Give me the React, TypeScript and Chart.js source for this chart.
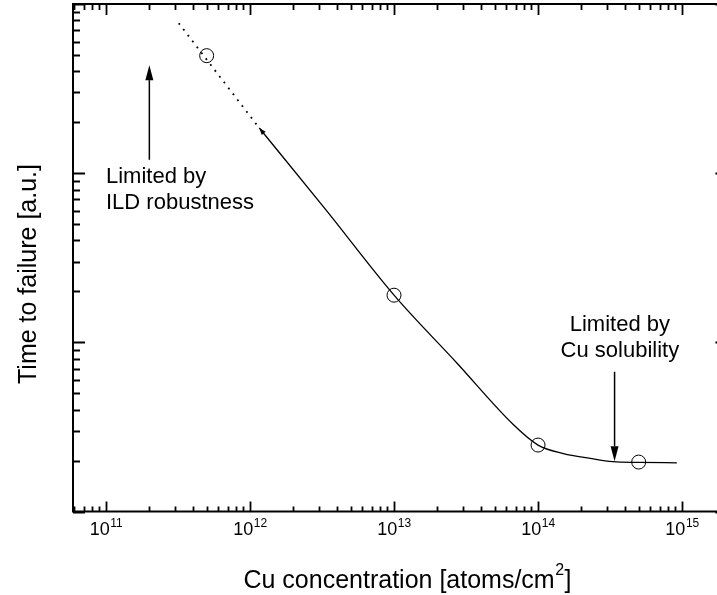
import React, { useEffect, useRef } from "react";
import { Chart, registerables } from "chart.js";

Chart.register(...registerables);

// ---- data (x: Cu concentration [atoms/cm^2], y: time to failure [a.u.]) ----
const dottedX = [3.2e11, 1.12e12];
const dottedY = [770, 192];

const solidX = [1.16e12, 3.4e12, 1e13, 2.75e13, 6.7e13, 1e14, 1.5e14, 2.3e14, 3.3e14, 5e14, 9.2e14];
const solidY = [185, 60, 19, 7.5, 3.28, 2.47, 2.2, 2.06, 1.97, 1.95, 1.94];

const markerX = [5e11, 1e13, 1e14, 5e14];
const markerY = [495, 19, 2.47, 1.96];

const xTickExponents = [11, 12, 13, 14, 15];
const yMajorTicks = [1, 10, 100, 1000];

const xRange = [5.9e10, 2e15];
const yRange = [1, 1000];

const xTitle = "Cu concentration [atoms/cm";
const xTitleSup = "2";
const xTitleEnd = "]";
const yTitle = "Time to failure [a.u.]";

// annotations (data coordinates)
const leftArrow = { x: 2e11, from: 120, to: 435 };
const rightArrow = { x: 3.4e14, from: 6.7, to: 1.98 };
const leftLabel = { x: 1e11, y: 87, lines: ["Limited by", "ILD robustness"] };
const rightLabel = { x: 3.7e14, y: 11.66, lines: ["Limited by", "Cu solubility"] };

const FONT = '"Liberation Sans", Arial, Helvetica, sans-serif';

const toPts = (xs: number[], ys: number[]) => xs.map((x, i) => ({ x, y: ys[i] }));

const decorPlugin = {
  id: "decor",
  afterDatasetsDraw(chart: any) {
    const { ctx, chartArea: a, scales } = chart;
    const xs = scales.x;
    const ys = scales.y;
    ctx.save();
    ctx.strokeStyle = "#000";
    ctx.fillStyle = "#000";

    // frame
    ctx.lineWidth = 2;
    ctx.strokeRect(a.left, a.top, a.right - a.left, a.bottom - a.top);

    // x ticks (inward, bottom + top)
    ctx.lineWidth = 1.8;
    for (let e = 10; e <= 15; e++) {
      for (let k = 1; k <= 9; k++) {
        const v = k * Math.pow(10, e);
        if (v < xRange[0] || v > xRange[1]) continue;
        const px = Math.round(xs.getPixelForValue(v)) + 0.5;
        const major = k === 1;
        ctx.beginPath();
        ctx.moveTo(px, a.bottom);
        ctx.lineTo(px, a.bottom - (major ? 10 : 5));
        ctx.moveTo(px, a.top);
        ctx.lineTo(px, a.top + (major ? 11 : 6));
        ctx.stroke();
      }
    }
    // y ticks (inward, left + right)
    for (let e = 0; e <= 3; e++) {
      for (let k = 1; k <= 9; k++) {
        const v = k * Math.pow(10, e);
        if (v < yRange[0] || v > yRange[1]) continue;
        const py = Math.round(ys.getPixelForValue(v)) + 0.5;
        const major = yMajorTicks.includes(v);
        ctx.beginPath();
        ctx.moveTo(a.left, py);
        ctx.lineTo(a.left + (major ? 12 : 7), py);
        ctx.moveTo(a.right, py);
        ctx.lineTo(a.right - (major ? 10 : 6), py);
        ctx.stroke();
      }
    }

    // x tick labels 10^n
    ctx.textBaseline = "alphabetic";
    ctx.textAlign = "left";
    for (const e of xTickExponents) {
      const px = xs.getPixelForValue(Math.pow(10, e));
      ctx.font = `18px ${FONT}`;
      const wBase = ctx.measureText("10").width;
      ctx.font = `12px ${FONT}`;
      const wSup = ctx.measureText(String(e)).width;
      const start = px - (wBase + wSup) / 2;
      ctx.font = `18px ${FONT}`;
      ctx.fillText("10", start, a.bottom + 23.5);
      ctx.font = `12px ${FONT}`;
      ctx.fillText(String(e), start + wBase + 0.5, a.bottom + 15.5);
    }

    // axis titles
    ctx.font = `25px ${FONT}`;
    const w1 = ctx.measureText(xTitle).width;
    const w3 = ctx.measureText(xTitleEnd).width;
    ctx.font = `16px ${FONT}`;
    const w2 = ctx.measureText(xTitleSup).width;
    const cx = 407;
    const startX = cx - (w1 + w2 + w3) / 2;
    ctx.font = `25px ${FONT}`;
    ctx.fillText(xTitle, startX, 588);
    ctx.font = `16px ${FONT}`;
    ctx.fillText(xTitleSup, startX + w1 + 0.5, 575);
    ctx.font = `25px ${FONT}`;
    ctx.fillText(xTitleEnd, startX + w1 + w2 + 1, 588);

    ctx.save();
    ctx.translate(36, 274);
    ctx.rotate(-Math.PI / 2);
    ctx.textAlign = "center";
    ctx.font = `25px ${FONT}`;
    ctx.fillText(yTitle, 0, 0);
    ctx.restore();

    // arrows
    const drawArrow = (x: number, y0: number, y1: number) => {
      const px = xs.getPixelForValue(x);
      const p0 = ys.getPixelForValue(y0);
      const p1 = ys.getPixelForValue(y1);
      const dir = p1 < p0 ? -1 : 1;
      const head = 15;
      ctx.lineWidth = 1.5;
      ctx.beginPath();
      ctx.moveTo(px, p0);
      ctx.lineTo(px, p1 - dir * head);
      ctx.stroke();
      ctx.beginPath();
      ctx.moveTo(px, p1);
      ctx.lineTo(px - 4, p1 - dir * head);
      ctx.lineTo(px + 4, p1 - dir * head);
      ctx.closePath();
      ctx.fill();
    };
    drawArrow(leftArrow.x, leftArrow.from, leftArrow.to);
    drawArrow(rightArrow.x, rightArrow.from, rightArrow.to);

    // small arrowhead at the start of the solid curve
    const meta = chart.getDatasetMeta(1);
    if (meta && meta.data.length > 1) {
      const q0 = meta.data[0];
      const q1 = meta.data[1];
      const dx = q0.x - q1.x;
      const dy = q0.y - q1.y;
      const len = Math.hypot(dx, dy);
      const ux = dx / len;
      const uy = dy / len;
      const hl = 7;
      const hw = 2.5;
      ctx.beginPath();
      ctx.moveTo(q0.x, q0.y);
      ctx.lineTo(q0.x - ux * hl - uy * hw, q0.y - uy * hl + ux * hw);
      ctx.lineTo(q0.x - ux * hl + uy * hw, q0.y - uy * hl - ux * hw);
      ctx.closePath();
      ctx.fill();
    }

    // annotation text
    ctx.font = `22px ${FONT}`;
    ctx.textAlign = "left";
    const lx = xs.getPixelForValue(leftLabel.x);
    const ly = ys.getPixelForValue(leftLabel.y);
    leftLabel.lines.forEach((t, i) => ctx.fillText(t, lx, ly + i * 26));
    ctx.textAlign = "center";
    const rx = xs.getPixelForValue(rightLabel.x);
    const ry = ys.getPixelForValue(rightLabel.y);
    rightLabel.lines.forEach((t, i) => ctx.fillText(t, rx, ry + i * 26));

    ctx.restore();
  },
};

export default function App() {
  const ref = useRef<HTMLCanvasElement | null>(null);
  useEffect(() => {
    if (!ref.current) return;
    const chart = new Chart(ref.current, {
      type: "scatter",
      data: {
        datasets: [
          {
            data: toPts(dottedX, dottedY),
            showLine: true,
            borderColor: "#000",
            borderWidth: 1.8,
            borderDash: [1.8, 5.6],
            pointRadius: 0,
          },
          {
            data: toPts(solidX, solidY),
            showLine: true,
            borderColor: "#000",
            borderWidth: 1.3,
            pointRadius: 0,
            cubicInterpolationMode: "monotone",
          },
          {
            data: toPts(markerX, markerY),
            showLine: false,
            pointRadius: 7,
            pointBorderColor: "#000",
            pointBackgroundColor: "rgba(0,0,0,0)",
            pointBorderWidth: 1,
          },
        ],
      } as any,
      options: {
        responsive: false,
        animation: false,
        events: [],
        layout: { autoPadding: false, padding: { left: 73, top: 4, right: 14.6, bottom: 83.5 } },
        plugins: { legend: { display: false }, tooltip: { enabled: false } },
        scales: {
          x: { type: "logarithmic", min: xRange[0], max: xRange[1], display: false },
          y: { type: "logarithmic", min: yRange[0], max: yRange[1], display: false },
        },
      } as any,
      plugins: [decorPlugin],
    });
    return () => chart.destroy();
  }, []);
  return (
    <div
      style={{
        position: "absolute",
        left: 0,
        top: 0,
        width: 717,
        height: 595,
        overflow: "hidden",
        background: "#fff",
      }}
    >
      <canvas ref={ref} width={740} height={595} style={{ display: "block" }} />
    </div>
  );
}
